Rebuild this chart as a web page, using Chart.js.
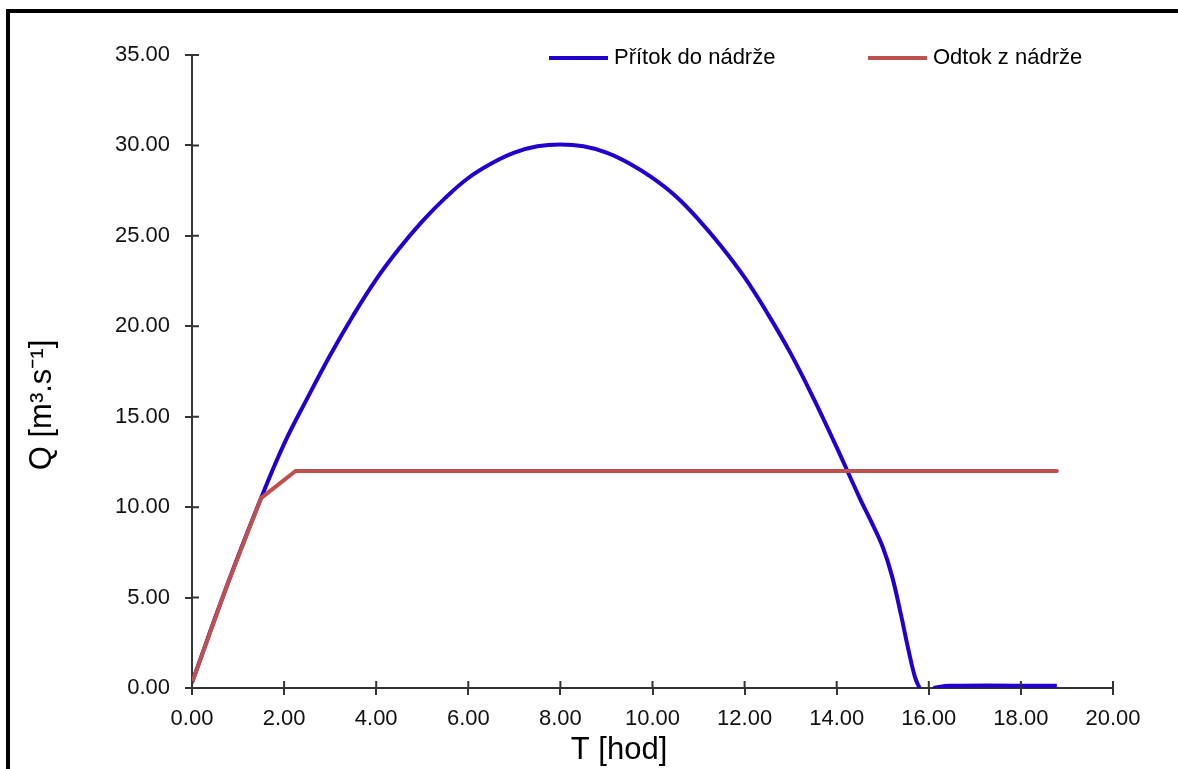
<!DOCTYPE html>
<html>
<head>
<meta charset="utf-8">
<title>Přítok a odtok z nádrže</title>
<script src="https://cdn.jsdelivr.net/npm/chart.js@4.4.1/dist/chart.umd.min.js"></script>
<style>
    html, body { margin: 0; padding: 0; background: #fff; overflow: hidden; }
    #frame {
        position: absolute; left: 6px; top: 9px; width: 1200px; height: 800px;
        border-left: 4px solid #000; border-top: 4px solid #000;
    }
    #wrap { position: absolute; left: 0; top: 0; width: 1178px; height: 769px; }
</style>
</head>
<body>
<div id="frame"></div>
<div id="wrap"><canvas id="graf"></canvas></div>
<script>
// Hodnoty (T v hodinách, Q v m3/s)
var casPritok = [0, 0.75, 1.5, 2, 2.5, 3, 3.5, 4, 4.5, 5, 5.5, 6, 6.5, 7, 7.5, 8,
                 8.5, 9, 9.5, 10, 10.5, 11, 11.5, 12, 12.5, 13, 13.5, 14, 14.5, 14.75, 15,
                 15.2, 15.4, 15.55, 15.7, 15.8, 15.95, 16.1, 16.45, 18.78];
var qPritok   = [0.3, 5.6, 10.5, 13.5, 16.0, 18.4, 20.6, 22.6, 24.3, 25.8, 27.1, 28.2, 29.0, 29.6, 29.95, 30.05,
                 29.95, 29.6, 29.0, 28.2, 27.2, 25.9, 24.4, 22.7, 20.7, 18.5, 16.0, 13.3, 10.5, 9.2, 7.8,
                 6.2, 4.0, 2.2, 0.6, 0.0, null, 0.0, 0.12, 0.12];

var casOdtok = [0, 0.75, 1.5, 2.25, 18.78];
var qOdtok   = [0.3, 5.6, 10.5, 12.0, 12.0];

var popisyX = ['0.00', '2.00', '4.00', '6.00', '8.00', '10.00', '12.00', '14.00', '16.00', '18.00', '20.00'];
var popisyY = ['0.00', '5.00', '10.00', '15.00', '20.00', '25.00', '30.00', '35.00'];

var nazevPritok = 'Přítok do nádrže';
var nazevOdtok  = 'Odtok z nádrže';
var titulekX = 'T [hod]';
var titulekY = 'Q [m³.s⁻¹]';

var barvaPritok = '#2100cf';
var barvaOdtok  = '#c0504d';
var barvaOsy    = '#333333';
var pismo       = '"Liberation Sans", Arial, sans-serif';

function body(xs, ys) {
    return xs.map(function (x, i) { return { x: x, y: ys[i] }; });
}

// Vnitřní části značek, názvy os a legenda
var kresba = {
    id: 'kresba',
    afterDraw: function (chart) {
        var ctx = chart.ctx;
        var a = chart.chartArea;
        var sx = chart.scales.x;
        var sy = chart.scales.y;

        ctx.save();
        ctx.strokeStyle = barvaOsy;
        ctx.lineWidth = 2;
        ctx.beginPath();
        sx.ticks.forEach(function (t) {
            var p = sx.getPixelForValue(t.value);
            ctx.moveTo(p, a.bottom);
            ctx.lineTo(p, a.bottom - 7);
        });
        sy.ticks.forEach(function (t) {
            var p = sy.getPixelForValue(t.value);
            ctx.moveTo(a.left, p);
            ctx.lineTo(a.left + 7, p);
        });
        ctx.stroke();

        ctx.fillStyle = '#000';
        ctx.font = '31px ' + pismo;
        ctx.textAlign = 'center';
        ctx.textBaseline = 'middle';
        ctx.fillText(titulekX, 619, 750);

        ctx.translate(42, 405);
        ctx.rotate(-Math.PI / 2);
        ctx.fillText(titulekY, 0, 0);
        ctx.restore();

        // legenda
        var polohy = [549, 868];
        ctx.save();
        ctx.font = '22px ' + pismo;
        ctx.textAlign = 'left';
        ctx.textBaseline = 'middle';
        [0, 1].forEach(function (i) {
            var ds = chart.data.datasets[i];
            var x0 = polohy[i];
            ctx.strokeStyle = ds.borderColor;
            ctx.lineWidth = 4;
            ctx.beginPath();
            ctx.moveTo(x0, 58);
            ctx.lineTo(x0 + 59, 58);
            ctx.stroke();
            ctx.fillStyle = '#000';
            ctx.fillText(ds.label, x0 + 65, 58);
        });
        ctx.restore();
    }
};

new Chart(document.getElementById('graf'), {
    type: 'line',
    data: {
        datasets: [
            {
                label: nazevPritok,
                data: body(casPritok, qPritok),
                borderColor: barvaPritok,
                borderWidth: 4,
                pointRadius: 0,
                tension: 0.4,
                spanGaps: false,
                order: 1
            },
            {
                label: nazevOdtok,
                data: body(casOdtok, qOdtok),
                borderColor: barvaOdtok,
                borderWidth: 4,
                pointRadius: 0,
                tension: 0,
                borderCapStyle: 'round',
                order: 0
            }
        ]
    },
    options: {
        responsive: true,
        maintainAspectRatio: false,
        animation: false,
        layout: { padding: { left: 0, top: 55, right: 65, bottom: 0 } },
        plugins: {
            legend: { display: false },
            tooltip: { enabled: false }
        },
        scales: {
            x: {
                type: 'linear',
                min: 0,
                max: 20,
                afterFit: function (s) { s.height = 81; },
                ticks: {
                    stepSize: 2,
                    color: '#111',
                    padding: 11,
                    maxRotation: 0,
                    font: { family: pismo, size: 22 },
                    callback: function (v, i) { return popisyX[i]; }
                },
                grid: { drawOnChartArea: false, tickLength: 7, color: barvaOsy, lineWidth: 2 },
                border: { color: barvaOsy, width: 2 }
            },
            y: {
                min: 0,
                max: 35,
                afterFit: function (s) { s.width = 192; },
                ticks: {
                    stepSize: 5,
                    color: '#111',
                    padding: 15,
                    font: { family: pismo, size: 22 },
                    callback: function (v, i) { return popisyY[i]; }
                },
                grid: { drawOnChartArea: false, tickLength: 7, color: barvaOsy, lineWidth: 2 },
                border: { color: barvaOsy, width: 2 }
            }
        }
    },
    plugins: [kresba]
});
</script>
</body>
</html>
